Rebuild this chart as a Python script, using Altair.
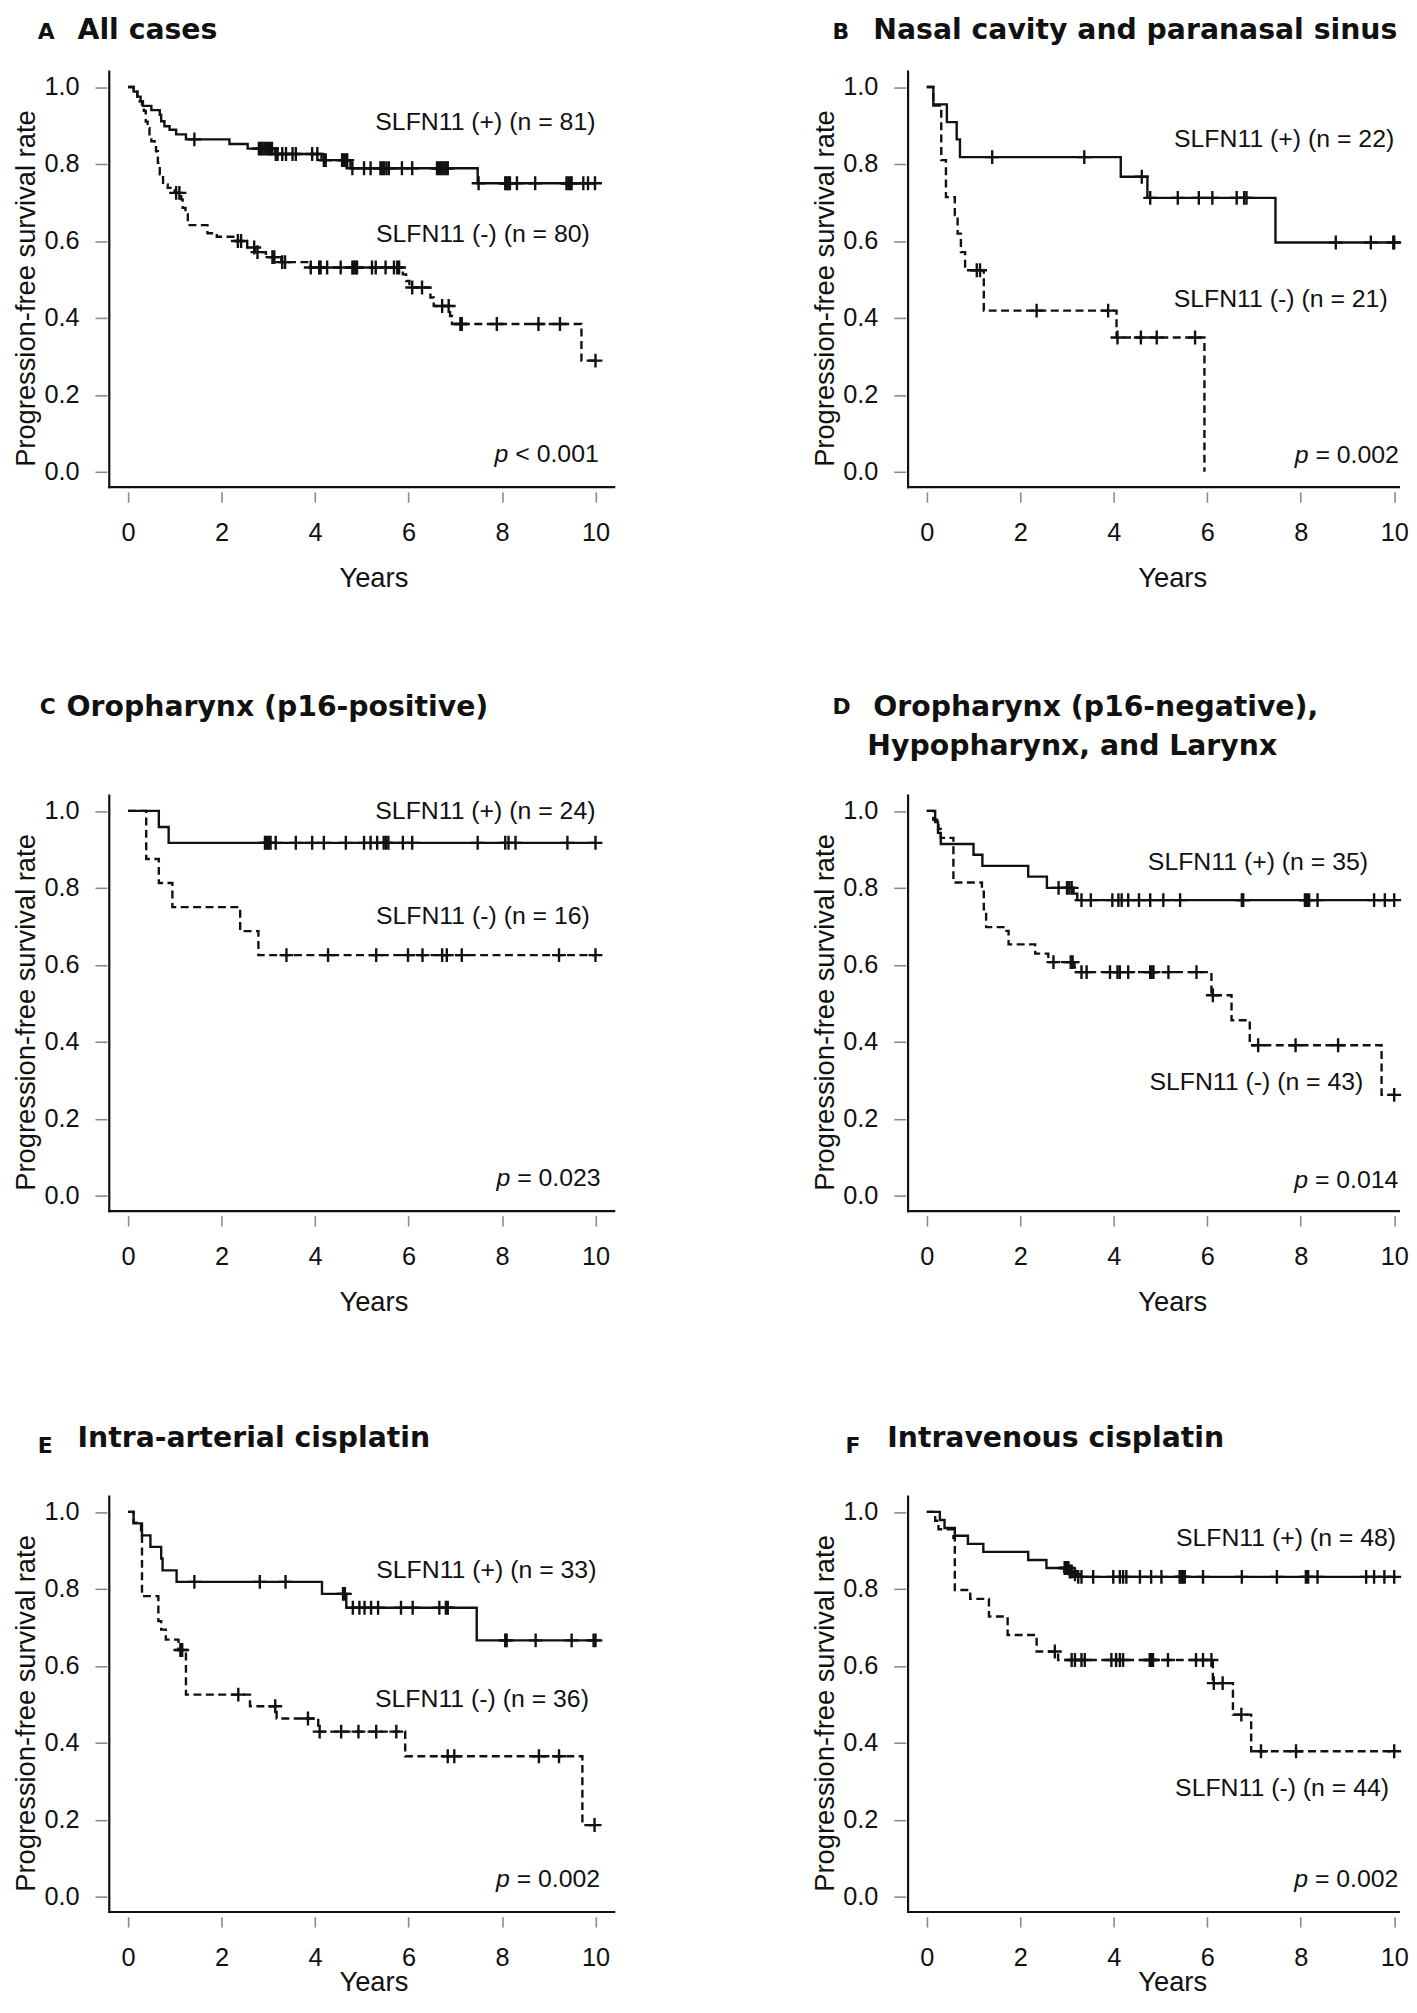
import altair as alt
import pandas as pd

FONT = "Liberation Sans"
TFONT = "DejaVu Sans"
INK = "#111111"
TICK = "#8a8a8a"

# ---------------- data (years, survival) ----------------
A_POS_T = [0.0, 0.12, 0.20, 0.27, 0.32, 0.50, 0.68, 0.71, 0.78, 0.89, 1.03, 1.24, 2.17, 2.56, 3.14, 4.14, 4.76, 7.48, 10.0]
A_POS_S = [1.000, 0.988, 0.975, 0.963, 0.951, 0.940, 0.928, 0.911, 0.898, 0.889, 0.877, 0.864, 0.852, 0.840, 0.826, 0.810, 0.789, 0.750, 0.750]
A_POS_CENS = [1.42, 2.80, 2.84, 2.88, 2.92, 2.96, 3.00, 3.04, 3.08, 3.16, 3.20, 3.30, 3.38, 3.52, 3.59, 3.94, 4.05, 4.19, 4.23,
              4.58, 4.62, 4.66, 4.69, 4.80, 5.05, 5.19, 5.40, 5.44, 5.48, 5.53, 5.58, 5.86, 6.08, 6.61, 6.65, 6.69, 6.73,
              6.77, 6.81, 6.84, 7.50, 8.07, 8.10, 8.14, 8.17, 8.32, 8.71, 9.38, 9.42, 9.46, 9.49, 9.74, 9.84, 9.99]
A_NEG_T = [0.0, 0.12, 0.20, 0.25, 0.30, 0.34, 0.38, 0.42, 0.46, 0.50, 0.57, 0.60, 0.64, 0.68, 0.75, 0.85, 1.00, 1.14, 1.17,
           1.23, 1.28, 1.70, 1.90, 2.30, 2.55, 2.72, 2.95, 3.28, 3.90, 5.88, 5.95, 6.02, 6.47, 6.54, 6.89, 6.93, 9.70, 10.0]
A_NEG_S = [1.000, 0.988, 0.975, 0.963, 0.950, 0.938, 0.910, 0.893, 0.868, 0.859, 0.850, 0.833, 0.803, 0.773, 0.747, 0.738,
           0.725, 0.708, 0.686, 0.669, 0.641, 0.620, 0.611, 0.600, 0.583, 0.571, 0.558, 0.545, 0.531, 0.513, 0.496, 0.479,
           0.453, 0.431, 0.405, 0.384, 0.289, 0.289]
A_NEG_CENS = [1.03, 1.10, 2.35, 2.42, 2.70, 2.77, 3.09, 3.13, 3.30, 3.36, 3.91, 4.09, 4.12, 4.26, 4.55, 4.80, 4.83, 4.87,
              4.90, 5.22, 5.30, 5.51, 5.69, 5.76, 5.80, 6.08, 6.29, 6.72, 6.86, 7.11, 7.14, 7.89, 8.78, 9.24, 10.0]

B_POS_T = [0.0, 0.14, 0.43, 0.64, 0.71, 4.15, 4.72, 7.46, 10.0]
B_POS_S = [1.0, 0.955, 0.909, 0.864, 0.818, 0.767, 0.712, 0.596, 0.596]
B_POS_CENS = [1.40, 3.37, 4.60, 4.78, 5.37, 5.82, 6.11, 6.63, 6.79, 6.84, 8.75, 9.50, 9.98, 10.0]
B_NEG_T = [0.0, 0.14, 0.31, 0.41, 0.60, 0.66, 0.73, 0.82, 1.22, 4.06, 5.94]
B_NEG_S = [1.0, 0.952, 0.810, 0.714, 0.667, 0.619, 0.571, 0.524, 0.419, 0.349, 0.0]
B_NEG_CENS = [1.07, 1.14, 2.35, 3.88, 4.08, 4.58, 4.92, 5.74]

C_POS_T = [0.0, 0.66, 0.87, 10.0]
C_POS_S = [1.0, 0.958, 0.917, 0.917]
C_POS_CENS = [2.93, 2.97, 3.01, 3.05, 3.16, 3.59, 3.94, 4.19, 4.66, 5.05, 5.19, 5.33, 5.47, 5.52, 5.57, 5.88, 6.08,
              7.48, 8.07, 8.14, 8.29, 9.40, 10.0]
C_NEG_T = [0.0, 0.39, 0.66, 0.95, 2.40, 2.79, 10.0]
C_NEG_S = [1.0, 0.875, 0.8125, 0.75, 0.6875, 0.625, 0.625]
C_NEG_CENS = [3.39, 4.28, 5.31, 5.99, 6.30, 6.72, 6.82, 7.14, 9.22, 10.0]

D_POS_T = [0.0, 0.18, 0.24, 0.30, 1.00, 1.19, 2.17, 2.57, 3.14, 3.22, 10.0]
D_POS_S = [1.0, 0.971, 0.943, 0.914, 0.886, 0.857, 0.829, 0.800, 0.785, 0.768, 0.768]
D_POS_CENS = [2.82, 3.00, 3.05, 3.10, 3.31, 3.51, 3.97, 4.10, 4.17, 4.31, 4.54, 4.78, 5.06, 5.42, 6.74, 6.77, 8.09,
              8.13, 8.18, 8.36, 9.57, 9.80, 10.0]
D_NEG_T = [0.0, 0.14, 0.25, 0.30, 0.57, 1.18, 1.22, 1.27, 1.64, 1.75, 2.32, 2.60, 3.16, 3.21, 6.09, 6.52, 6.91, 9.73, 10.0]
D_NEG_S = [1.0, 0.977, 0.953, 0.930, 0.814, 0.790, 0.744, 0.698, 0.688, 0.653, 0.629, 0.607, 0.593, 0.581, 0.521,
           0.456, 0.391, 0.262, 0.262]
D_NEG_CENS = [2.71, 3.08, 3.12, 3.31, 3.42, 3.92, 4.08, 4.13, 4.31, 4.78, 4.81, 4.85, 5.17, 5.77, 6.12, 7.09, 7.89, 8.80, 10.0]

E_POS_T = [0.0, 0.12, 0.30, 0.48, 0.71, 0.74, 1.04, 4.15, 4.67, 7.46, 10.0]
E_POS_S = [1.0, 0.970, 0.939, 0.909, 0.879, 0.848, 0.818, 0.787, 0.751, 0.666, 0.666]
E_POS_CENS = [1.42, 2.82, 3.37, 4.60, 4.64, 4.81, 4.95, 5.06, 5.20, 5.35, 5.84, 6.09, 6.66, 6.80, 6.84, 8.07, 8.10,
              8.72, 9.49, 9.96, 10.0]
E_NEG_T = [0.0, 0.12, 0.28, 0.30, 0.65, 0.71, 0.81, 1.08, 1.24, 2.61, 3.18, 4.07, 5.93, 9.72, 10.0]
E_NEG_S = [1.0, 0.972, 0.944, 0.781, 0.716, 0.694, 0.668, 0.641, 0.525, 0.495, 0.463, 0.429, 0.365, 0.186, 0.186]
E_NEG_CENS = [1.12, 1.16, 2.36, 3.15, 3.85, 4.10, 4.56, 4.93, 5.31, 5.74, 6.84, 6.98, 8.79, 9.22, 9.98]

F_POS_T = [0.0, 0.28, 0.38, 0.60, 0.88, 1.21, 2.17, 2.56, 3.05, 3.12, 3.20, 10.0]
F_POS_S = [1.0, 0.979, 0.958, 0.938, 0.917, 0.896, 0.875, 0.854, 0.845, 0.838, 0.831, 0.831]
F_POS_CENS = [2.95, 2.98, 3.00, 3.03, 3.06, 3.10, 3.17, 3.24, 3.31, 3.56, 3.99, 4.13, 4.20, 4.27, 4.56, 4.80, 5.02,
              5.41, 5.45, 5.48, 5.52, 5.91, 6.74, 7.49, 8.11, 8.16, 8.36, 9.40, 9.57, 9.79, 10.0]
F_NEG_T = [0.0, 0.18, 0.25, 0.57, 0.60, 0.93, 1.33, 1.73, 2.35, 2.81, 6.12, 6.55, 6.94, 10.0]
F_NEG_S = [1.0, 0.977, 0.955, 0.932, 0.797, 0.774, 0.728, 0.680, 0.637, 0.615, 0.555, 0.473, 0.378, 0.378]
F_NEG_CENS = [2.74, 3.10, 3.17, 3.31, 3.38, 3.95, 4.05, 4.13, 4.20, 4.77, 4.80, 4.84, 5.16, 5.76, 5.91, 6.09, 6.14,
              6.33, 6.73, 7.15, 7.90, 10.0]

PANELS = ["A", "B", "C", "D", "E", "F"]
TITLES = {"A": ["All cases"],
          "B": ["Nasal cavity and paranasal sinus"],
          "C": ["Oropharynx (p16-positive)"],
          "D": ["Oropharynx (p16-negative),", "Hypopharynx, and Larynx"],
          "E": ["Intra-arterial cisplatin"],
          "F": ["Intravenous cisplatin"]}
N_POS = [81, 22, 24, 35, 33, 48]
N_NEG = [80, 21, 16, 43, 36, 44]
P_TEXT = [" < 0.001", " = 0.002", " = 0.023", " = 0.014", " = 0.002", " = 0.002"]

# label anchors (right edge, vertical centre) in data units
POS_LABEL_X = [10.0, 10.0, 10.0, 9.44, 10.02, 10.04]
POS_LABEL_Y = [0.910, 0.866, 1.000, 0.866, 0.850, 0.931]
NEG_LABEL_X = [9.88, 9.86, 9.88, 9.34, 9.86, 9.89]
NEG_LABEL_Y = [0.617, 0.449, 0.726, 0.296, 0.513, 0.283]
P_LABEL_X = [10.07, 10.10, 10.11, 10.09, 10.10, 10.09]
P_LABEL_Y = [0.047, 0.043, 0.047, 0.041, 0.045, 0.045]

CURVES = {
    "A": (A_POS_T, A_POS_S, A_POS_CENS, A_NEG_T, A_NEG_S, A_NEG_CENS),
    "B": (B_POS_T, B_POS_S, B_POS_CENS, B_NEG_T, B_NEG_S, B_NEG_CENS),
    "C": (C_POS_T, C_POS_S, C_POS_CENS, C_NEG_T, C_NEG_S, C_NEG_CENS),
    "D": (D_POS_T, D_POS_S, D_POS_CENS, D_NEG_T, D_NEG_S, D_NEG_CENS),
    "E": (E_POS_T, E_POS_S, E_POS_CENS, E_NEG_T, E_NEG_S, E_NEG_CENS),
    "F": (F_POS_T, F_POS_S, F_POS_CENS, F_NEG_T, F_NEG_S, F_NEG_CENS),
}


def surv_at(ts, ss, t):
    v = ss[0]
    for ti, si in zip(ts, ss):
        if ti <= t:
            v = si
    return v


line_rows, cens_rows, label_rows = [], [], []
for i, key in enumerate(PANELS):
    pt, ps, pc, nt, ns, nc = CURVES[key]
    for grp, ts, ss, cs in (("pos", pt, ps, pc), ("neg", nt, ns, nc)):
        for k, (t, s) in enumerate(zip(ts, ss)):
            line_rows.append({"panel": key, "grp": grp, "t": t, "s": s, "ord": k})
        for c in cs:
            cens_rows.append({"panel": key, "grp": grp, "t": c, "s": surv_at(ts, ss, c)})
    label_rows.append({"panel": key, "kind": "pos", "t": POS_LABEL_X[i], "s": POS_LABEL_Y[i],
                       "txt": f"SLFN11 (+) (n = {N_POS[i]})"})
    label_rows.append({"panel": key, "kind": "neg", "t": NEG_LABEL_X[i], "s": NEG_LABEL_Y[i],
                       "txt": f"SLFN11 (-) (n = {N_NEG[i]})"})
    label_rows.append({"panel": key, "kind": "p", "t": P_LABEL_X[i], "s": P_LABEL_Y[i], "txt": P_TEXT[i]})

lines = pd.DataFrame(line_rows)
cens = pd.DataFrame(cens_rows)
labels = pd.DataFrame(label_rows)

# ---------------- layout / style ----------------
PXY = 47.08          # pixels per year
H = 418.5            # plot height (y from -0.04 to 1.04)
PLUS = "M-1,0L1,0M0,-1L0,1"
LW = 2.4

TITLE_X = {"A": -32, "B": -35, "C": -43, "D": -35, "E": -32, "F": -21}
LETTER_X = {"A": -72, "B": -76, "C": -70, "D": -76, "E": -72, "F": -63}
ROW_TITLE_BASE = [-33.2, -80.5, -49.5]
ROW_LETTER_SHIFT = [0, -2, 6]
ROW_BOTTOM_PAD = [None, H + 113, None]


def make_panel(i, key):
    row = i // 2
    right = i % 2 == 1
    xmax = 10.1 if right else 10.4
    W = round((xmax + 0.4) * PXY, 1)
    title_y = 74 if row == 2 else 95.3

    xaxis = alt.Axis(values=[0, 2, 4, 6, 8, 10], title="Years", grid=False, domain=False,
                     offset=4.7, tickSize=10.4, tickWidth=1.6, tickColor=TICK,
                     labelFont=FONT, labelFontSize=25.5, labelColor=INK, labelPadding=19,
                     labelFlush=False, labelOverlap=False,
                     titleFont=FONT, titleFontSize=27.5, titleFontWeight="normal", titleColor=INK,
                     titleX=266, titleY=title_y, titleBaseline="alphabetic", titleAlign="center")
    yaxis = alt.Axis(values=[0, 0.2, 0.4, 0.6, 0.8, 1.0], format=".1f",
                     title="Progression-free survival rate", grid=False, domain=False,
                     offset=2.4, tickSize=12, tickWidth=1.6, tickColor=TICK,
                     labelFont=FONT, labelFontSize=25.5, labelColor=INK, labelPadding=16,
                     labelFlush=False, labelOverlap=False,
                     titleFont=FONT, titleFontSize=27.5, titleFontWeight="normal", titleColor=INK,
                     titleX=-73, titleY=218, titleAngle=270, titleBaseline="alphabetic",
                     titleAlign="center")
    xs = alt.X("t:Q", scale=alt.Scale(domain=[-0.4, xmax], nice=False, zero=False), axis=xaxis)
    ys = alt.Y("s:Q", scale=alt.Scale(domain=[-0.04, 1.04], nice=False, zero=False), axis=yaxis)

    ln = lines[lines.panel == key]
    solid = alt.Chart(ln[ln.grp == "pos"]).mark_line(
        interpolate="step-after", color=INK, strokeWidth=LW).encode(x=xs, y=ys, order="ord:Q")
    dashed = alt.Chart(ln[ln.grp == "neg"]).mark_line(
        interpolate="step-after", color=INK, strokeWidth=LW, strokeDash=[8, 4.5]).encode(x=xs, y=ys, order="ord:Q")
    marks = alt.Chart(cens[cens.panel == key]).mark_point(
        shape=PLUS, size=196, filled=False, strokeWidth=2.4, color=INK, opacity=1).encode(x=xs, y=ys)

    lab = labels[labels.panel == key]
    txt = alt.Chart(lab).mark_text(align="right", baseline="middle", font=FONT, fontSize=25,
                                   color=INK).encode(x=xs, y=ys, text="txt:N")
    pl = alt.Chart(lab[lab.kind == "p"]).mark_text(
        align="right", baseline="middle", font=FONT, fontSize=25, fontStyle="italic",
        dx=-91, color=INK).encode(x=xs, y=ys, text=alt.value("p"))

    one = pd.DataFrame({"a": [0]})
    frame_v = alt.Chart(one).mark_rule(color=INK, strokeWidth=2.2, strokeCap="square").encode(
        x=alt.value(0), y=alt.value(0), y2=alt.value(H))
    frame_h = alt.Chart(one).mark_rule(color=INK, strokeWidth=2.2, strokeCap="square").encode(
        x=alt.value(0), x2=alt.value(W), y=alt.value(H))
    # invisible layout spacers (keep the panel grid aligned like the original)
    spacers = [alt.Chart(one).mark_rule(color="white", strokeWidth=1, strokeOpacity=0).encode(
        x=alt.value(-101.5), y=alt.value(200), y2=alt.value(201))]
    if ROW_BOTTOM_PAD[row] is not None:
        spacers.append(alt.Chart(one).mark_rule(color="white", strokeWidth=1, strokeOpacity=0).encode(
            x=alt.value(10), x2=alt.value(11), y=alt.value(ROW_BOTTOM_PAD[row])))

    base = ROW_TITLE_BASE[row]
    title_layers = []
    letter = alt.Chart(pd.DataFrame({"txt": [key]})).mark_text(
        align="left", baseline="alphabetic", font=TFONT, fontWeight="bold", fontSize=22,
        color=INK).encode(x=alt.value(LETTER_X[key]), y=alt.value(base + ROW_LETTER_SHIFT[row]), text="txt:N")
    title_layers.append(letter)
    for j, line in enumerate(TITLES[key]):
        tx = TITLE_X[key] if j == 0 else TITLE_X[key] - 6
        title_layers.append(alt.Chart(pd.DataFrame({"txt": [line]})).mark_text(
            align="left", baseline="alphabetic", font=TFONT, fontWeight="bold", fontSize=28.5,
            color=INK).encode(x=alt.value(tx), y=alt.value(base + 40 * j), text="txt:N"))

    return alt.layer(*spacers, frame_v, frame_h, dashed, solid, marks, txt, pl,
                     *title_layers).properties(width=W, height=H)


panels = [make_panel(i, k) for i, k in enumerate(PANELS)]
chart = alt.concat(*panels, columns=2, spacing={"row": 101, "column": 191.5}).properties(
    padding=0, background="white").configure_view(strokeWidth=0)

chart.save("out.html", embed_options={"renderer": "svg", "actions": False})
